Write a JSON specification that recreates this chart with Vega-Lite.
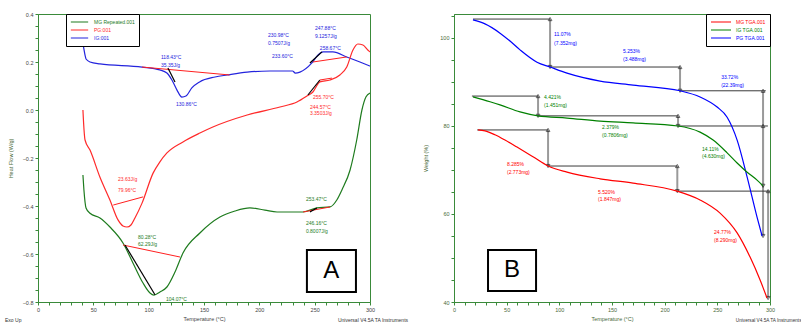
{
  "$schema": "https://vega.github.io/schema/vega-lite/v6.json",
  "autosize": {"type": "none"},
  "padding": {"left": 38, "top": 14, "right": 763, "bottom": 312},
  "background": "white",
  "bounds": "flush",
  "spacing": 84,
  "config": {
    "font": "Liberation Sans",
    "view": {"stroke": "#3a8a3a", "strokeWidth": 1},
    "axis": {"grid": false, "domainColor": "#3a8a3a", "tickColor": "#3a8a3a", "labelColor": "#4a6a3a", "titleColor": "#4a6a3a", "labelFontSize": 5.5, "titleFontSize": 5.5, "titleFontWeight": "normal", "tickSize": 3, "labelPadding": 2, "labelOverlap": false, "labelFont": "Liberation Sans", "titleFont": "Liberation Sans"},
    "text": {"font": "Liberation Sans", "fontSize": 5, "align": "left", "baseline": "middle"},
    "legend": {"labelFont": "Liberation Sans"}
  },
  "datasets": {
    "dscCurves": [
      {"x": 40.6, "y": 0.279, "s": "IG:001"}, {"x": 42.5, "y": 0.229, "s": "IG:001"}, {"x": 43.4, "y": 0.2125, "s": "IG:001"}, {"x": 47, "y": 0.2, "s": "IG:001"}, {"x": 56, "y": 0.192, "s": "IG:001"}, {"x": 94, "y": 0.179, "s": "IG:001"}, {"x": 110, "y": 0.167, "s": "IG:001"}, {"x": 116.5, "y": 0.154, "s": "IG:001"}, {"x": 121, "y": 0.125, "s": "IG:001"}, {"x": 125.6, "y": 0.083, "s": "IG:001"}, {"x": 130, "y": 0.054, "s": "IG:001"}, {"x": 133.7, "y": 0.058, "s": "IG:001"}, {"x": 139, "y": 0.092, "s": "IG:001"}, {"x": 146, "y": 0.117, "s": "IG:001"}, {"x": 160, "y": 0.1375, "s": "IG:001"}, {"x": 171, "y": 0.146, "s": "IG:001"}, {"x": 189, "y": 0.158, "s": "IG:001"}, {"x": 209.6, "y": 0.1625, "s": "IG:001"}, {"x": 230, "y": 0.1625, "s": "IG:001"}, {"x": 232.5, "y": 0.154, "s": "IG:001"}, {"x": 236.7, "y": 0.158, "s": "IG:001"}, {"x": 247.5, "y": 0.196, "s": "IG:001"}, {"x": 253, "y": 0.229, "s": "IG:001"}, {"x": 257.5, "y": 0.242, "s": "IG:001"}, {"x": 266.5, "y": 0.242, "s": "IG:001"}, {"x": 279, "y": 0.221, "s": "IG:001"}, {"x": 290.9, "y": 0.2, "s": "IG:001"}, {"x": 300, "y": 0.183, "s": "IG:001"},
      {"x": 40.6, "y": 0.0, "s": "PG:001"}, {"x": 41.6, "y": -0.083, "s": "PG:001"}, {"x": 42.5, "y": -0.125, "s": "PG:001"}, {"x": 47, "y": -0.167, "s": "PG:001"}, {"x": 56, "y": -0.28, "s": "PG:001"}, {"x": 65, "y": -0.375, "s": "PG:001"}, {"x": 72.3, "y": -0.458, "s": "PG:001"}, {"x": 76.8, "y": -0.483, "s": "PG:001"}, {"x": 80.4, "y": -0.4875, "s": "PG:001"}, {"x": 84, "y": -0.479, "s": "PG:001"}, {"x": 87.6, "y": -0.45, "s": "PG:001"}, {"x": 94, "y": -0.388, "s": "PG:001"}, {"x": 104, "y": -0.263, "s": "PG:001"}, {"x": 110, "y": -0.217, "s": "PG:001"}, {"x": 116.5, "y": -0.179, "s": "PG:001"}, {"x": 131, "y": -0.133, "s": "PG:001"}, {"x": 146.3, "y": -0.096, "s": "PG:001"}, {"x": 158, "y": -0.071, "s": "PG:001"}, {"x": 189, "y": -0.021, "s": "PG:001"}, {"x": 218.6, "y": 0.0125, "s": "PG:001"}, {"x": 234, "y": 0.033, "s": "PG:001"}, {"x": 243, "y": 0.058, "s": "PG:001"}, {"x": 248.4, "y": 0.075, "s": "PG:001"}, {"x": 254.7, "y": 0.117, "s": "PG:001"}, {"x": 263.8, "y": 0.125, "s": "PG:001"}, {"x": 272.8, "y": 0.146, "s": "PG:001"}, {"x": 279, "y": 0.179, "s": "PG:001"}, {"x": 284.6, "y": 0.25, "s": "PG:001"}, {"x": 289, "y": 0.275, "s": "PG:001"}, {"x": 293.6, "y": 0.271, "s": "PG:001"}, {"x": 298, "y": 0.25, "s": "PG:001"}, {"x": 300, "y": 0.242, "s": "PG:001"},
      {"x": 40.6, "y": -0.271, "s": "MG Repeated.001"}, {"x": 41.5, "y": -0.333, "s": "MG Repeated.001"}, {"x": 43.4, "y": -0.408, "s": "MG Repeated.001"}, {"x": 47, "y": -0.43, "s": "MG Repeated.001"}, {"x": 56, "y": -0.45, "s": "MG Repeated.001"}, {"x": 65, "y": -0.4875, "s": "MG Repeated.001"}, {"x": 76.8, "y": -0.554, "s": "MG Repeated.001"}, {"x": 85.8, "y": -0.6375, "s": "MG Repeated.001"}, {"x": 94.9, "y": -0.721, "s": "MG Repeated.001"}, {"x": 101.2, "y": -0.7625, "s": "MG Repeated.001"}, {"x": 104.8, "y": -0.771, "s": "MG Repeated.001"}, {"x": 110.2, "y": -0.758, "s": "MG Repeated.001"}, {"x": 116.5, "y": -0.7375, "s": "MG Repeated.001"}, {"x": 123.8, "y": -0.675, "s": "MG Repeated.001"}, {"x": 131, "y": -0.596, "s": "MG Repeated.001"}, {"x": 146.3, "y": -0.5125, "s": "MG Repeated.001"}, {"x": 164.4, "y": -0.446, "s": "MG Repeated.001"}, {"x": 178, "y": -0.421, "s": "MG Repeated.001"}, {"x": 191.5, "y": -0.408, "s": "MG Repeated.001"}, {"x": 205, "y": -0.417, "s": "MG Repeated.001"}, {"x": 216, "y": -0.425, "s": "MG Repeated.001"}, {"x": 239.4, "y": -0.425, "s": "MG Repeated.001"}, {"x": 252, "y": -0.408, "s": "MG Repeated.001"}, {"x": 263.8, "y": -0.404, "s": "MG Repeated.001"}, {"x": 270, "y": -0.375, "s": "MG Repeated.001"}, {"x": 274.6, "y": -0.333, "s": "MG Repeated.001"}, {"x": 282, "y": -0.25, "s": "MG Repeated.001"}, {"x": 288, "y": -0.125, "s": "MG Repeated.001"}, {"x": 292.7, "y": 0.0, "s": "MG Repeated.001"}, {"x": 296.3, "y": 0.054, "s": "MG Repeated.001"}, {"x": 300, "y": 0.071, "s": "MG Repeated.001"}
    ],
    "dscSeg": [
      {"x": 94, "x2": 173, "y": 0.179, "y2": 0.146, "k": "base"},
      {"x": 248.4, "x2": 279, "y": 0.2, "y2": 0.221, "k": "base"},
      {"x": 68, "x2": 95, "y": -0.396, "y2": -0.362, "k": "base"},
      {"x": 254.7, "x2": 265.6, "y": 0.125, "y2": 0.133, "k": "base"},
      {"x": 76.8, "x2": 128.3, "y": -0.5625, "y2": -0.6125, "k": "base"},
      {"x": 239.5, "x2": 264, "y": -0.425, "y2": -0.404, "k": "base"},
      {"x": 117.4, "x2": 123.8, "y": 0.175, "y2": 0.117, "k": "tan"},
      {"x": 245.7, "x2": 256.6, "y": 0.196, "y2": 0.242, "k": "tan"},
      {"x": 78.6, "x2": 105.7, "y": -0.5625, "y2": -0.77, "k": "tan"},
      {"x": 243.9, "x2": 254.7, "y": 0.0625, "y2": 0.125, "k": "tan"},
      {"x": 245.7, "x2": 252, "y": -0.425, "y2": -0.408, "k": "tan"}
    ],
    "dscText": [
      {"x": 111.1, "y": 0.221, "t": "118.43°C", "s": "IG:001"},
      {"x": 111.1, "y": 0.1875, "t": "35.35J/g", "s": "IG:001"},
      {"x": 124.7, "y": 0.025, "t": "130.86°C", "s": "IG:001"},
      {"x": 207.8, "y": 0.3125, "t": "230.98°C", "s": "IG:001"},
      {"x": 207.8, "y": 0.279, "t": "0.7507J/g", "s": "IG:001"},
      {"x": 250.2, "y": 0.342, "t": "247.88°C", "s": "IG:001"},
      {"x": 250.2, "y": 0.308, "t": "9.1257J/g", "s": "IG:001"},
      {"x": 254.7, "y": 0.258, "t": "258.67°C", "s": "IG:001"},
      {"x": 211.4, "y": 0.225, "t": "233.60°C", "s": "IG:001"},
      {"x": 248.4, "y": 0.054, "t": "255.70°C", "s": "PG:001"},
      {"x": 245.7, "y": 0.0125, "t": "244.57°C", "s": "PG:001"},
      {"x": 245.7, "y": -0.0125, "t": "3.3503J/g", "s": "PG:001"},
      {"x": 72.3, "y": -0.2875, "t": "23.63J/g", "s": "PG:001"},
      {"x": 72.3, "y": -0.333, "t": "79.96°C", "s": "PG:001"},
      {"x": 90.3, "y": -0.529, "t": "80.28°C", "s": "MG Repeated.001"},
      {"x": 90.3, "y": -0.558, "t": "62.29J/g", "s": "MG Repeated.001"},
      {"x": 115.6, "y": -0.789, "t": "104.07°C", "s": "MG Repeated.001"},
      {"x": 242.1, "y": -0.371, "t": "253.47°C", "s": "MG Repeated.001"},
      {"x": 242.1, "y": -0.471, "t": "246.16°C", "s": "MG Repeated.001"},
      {"x": 242.1, "y": -0.504, "t": "0.8007J/g", "s": "MG Repeated.001"}
    ],
    "dscNotes": [
      {"x": -29.8, "y": -0.875, "t": "Exo Up"},
      {"x": 271, "y": -0.875, "t": "Universal V4.5A TA Instruments"}
    ],
    "dscBox": [{"x": 243, "x2": 287.3, "y": -0.583, "y2": -0.758, "t": "A", "cx": 265, "cy": -0.67}],
    "tgaCurves": [
      {"x": 18, "y": 104.1, "s": "PG TGA.001"}, {"x": 29.4, "y": 103.2, "s": "PG TGA.001"}, {"x": 43.7, "y": 101.1, "s": "PG TGA.001"}, {"x": 53.2, "y": 99.3, "s": "PG TGA.001"}, {"x": 62.7, "y": 97.3, "s": "PG TGA.001"}, {"x": 78.8, "y": 94.5, "s": "PG TGA.001"}, {"x": 91.2, "y": 93.4, "s": "PG TGA.001"}, {"x": 107.3, "y": 92.0, "s": "PG TGA.001"}, {"x": 138.7, "y": 90.2, "s": "PG TGA.001"}, {"x": 170, "y": 89.3, "s": "PG TGA.001"}, {"x": 214.6, "y": 88.0, "s": "PG TGA.001"}, {"x": 233.6, "y": 86.6, "s": "PG TGA.001"}, {"x": 249.8, "y": 84.3, "s": "PG TGA.001"}, {"x": 259.3, "y": 82.0, "s": "PG TGA.001"}, {"x": 268.8, "y": 76.8, "s": "PG TGA.001"}, {"x": 278.3, "y": 68.4, "s": "PG TGA.001"}, {"x": 287.7, "y": 59.3, "s": "PG TGA.001"}, {"x": 292.5, "y": 55.0, "s": "PG TGA.001"},
      {"x": 18, "y": 86.6, "s": "IG TGA.001"}, {"x": 34.2, "y": 85.5, "s": "IG TGA.001"}, {"x": 43.7, "y": 84.8, "s": "IG TGA.001"}, {"x": 62.7, "y": 83.2, "s": "IG TGA.001"}, {"x": 79.8, "y": 82.3, "s": "IG TGA.001"}, {"x": 107.3, "y": 81.8, "s": "IG TGA.001"}, {"x": 138.7, "y": 81.1, "s": "IG TGA.001"}, {"x": 170, "y": 80.7, "s": "IG TGA.001"}, {"x": 212.7, "y": 80.0, "s": "IG TGA.001"}, {"x": 233.6, "y": 78.6, "s": "IG TGA.001"}, {"x": 246, "y": 76.8, "s": "IG TGA.001"}, {"x": 259.3, "y": 73.9, "s": "IG TGA.001"}, {"x": 268.8, "y": 71.6, "s": "IG TGA.001"}, {"x": 278.3, "y": 69.5, "s": "IG TGA.001"}, {"x": 287.7, "y": 67.7, "s": "IG TGA.001"}, {"x": 293.4, "y": 66.4, "s": "IG TGA.001"},
      {"x": 22.8, "y": 79.1, "s": "MG TGA.001"}, {"x": 29.4, "y": 78.9, "s": "MG TGA.001"}, {"x": 38.9, "y": 78.0, "s": "MG TGA.001"}, {"x": 48.4, "y": 76.8, "s": "MG TGA.001"}, {"x": 59.8, "y": 75.2, "s": "MG TGA.001"}, {"x": 75, "y": 73.0, "s": "MG TGA.001"}, {"x": 89.3, "y": 70.9, "s": "MG TGA.001"}, {"x": 107.3, "y": 69.5, "s": "MG TGA.001"}, {"x": 138.7, "y": 68.0, "s": "MG TGA.001"}, {"x": 170, "y": 67.0, "s": "MG TGA.001"}, {"x": 211.8, "y": 65.2, "s": "MG TGA.001"}, {"x": 233.6, "y": 63.2, "s": "MG TGA.001"}, {"x": 252.6, "y": 60.2, "s": "MG TGA.001"}, {"x": 268.8, "y": 55.7, "s": "MG TGA.001"}, {"x": 281.1, "y": 50.2, "s": "MG TGA.001"}, {"x": 290.6, "y": 45.0, "s": "MG TGA.001"}, {"x": 297.2, "y": 40.9, "s": "MG TGA.001"}
    ],
    "tgaSeg": [
      {"x": 18, "x2": 91.2, "y": 104.3, "y2": 104.3, "k": "h"},
      {"x": 91.2, "x2": 214.6, "y": 93.4, "y2": 93.4, "k": "h"},
      {"x": 214.6, "x2": 296, "y": 88.0, "y2": 88.0, "k": "h"},
      {"x": 17, "x2": 79.8, "y": 86.8, "y2": 86.8, "k": "h"},
      {"x": 79.8, "x2": 212.7, "y": 82.3, "y2": 82.3, "k": "h"},
      {"x": 212.7, "x2": 298, "y": 80.0, "y2": 80.0, "k": "h"},
      {"x": 22, "x2": 89.3, "y": 79.1, "y2": 79.1, "k": "h"},
      {"x": 89.3, "x2": 212, "y": 70.9, "y2": 70.9, "k": "h"},
      {"x": 212, "x2": 300, "y": 65.2, "y2": 65.2, "k": "h"},
      {"x": 91.2, "x2": 91.2, "y": 104.3, "y2": 93.4, "k": "v"},
      {"x": 214.6, "x2": 214.6, "y": 93.4, "y2": 88.0, "k": "v"},
      {"x": 293.4, "x2": 293.4, "y": 88.0, "y2": 55.0, "k": "v"},
      {"x": 79.8, "x2": 79.8, "y": 86.8, "y2": 82.3, "k": "v"},
      {"x": 212.7, "x2": 212.7, "y": 82.3, "y2": 80.0, "k": "v"},
      {"x": 293.4, "x2": 293.4, "y": 80.0, "y2": 66.4, "k": "v"},
      {"x": 89.3, "x2": 89.3, "y": 79.1, "y2": 70.9, "k": "v"},
      {"x": 212, "x2": 212, "y": 70.9, "y2": 65.2, "k": "v"},
      {"x": 298.2, "x2": 298.2, "y": 65.2, "y2": 40.9, "k": "v"}
    ],
    "tgaText": [
      {"x": 95, "y": 100.9, "t": "11.07%", "s": "PG TGA.001"},
      {"x": 95, "y": 98.9, "t": "(7.352mg)", "s": "PG TGA.001"},
      {"x": 160.5, "y": 97.05, "t": "5.253%", "s": "PG TGA.001"},
      {"x": 160.5, "y": 95.2, "t": "(3.488mg)", "s": "PG TGA.001"},
      {"x": 253.6, "y": 91.1, "t": "33.72%", "s": "PG TGA.001"},
      {"x": 253.6, "y": 89.3, "t": "(22.39mg)", "s": "PG TGA.001"},
      {"x": 85.5, "y": 86.6, "t": "4.421%", "s": "IG TGA.001"},
      {"x": 85.5, "y": 84.8, "t": "(1.451mg)", "s": "IG TGA.001"},
      {"x": 140.6, "y": 79.8, "t": "2.379%", "s": "IG TGA.001"},
      {"x": 140.6, "y": 78.0, "t": "(0.7806mg)", "s": "IG TGA.001"},
      {"x": 235.5, "y": 74.8, "t": "14.11%", "s": "IG TGA.001"},
      {"x": 235.5, "y": 73.2, "t": "(4.630mg)", "s": "IG TGA.001"},
      {"x": 50.3, "y": 71.4, "t": "8.285%", "s": "MG TGA.001"},
      {"x": 50.3, "y": 69.5, "t": "(2.773mg)", "s": "MG TGA.001"},
      {"x": 136.8, "y": 65.0, "t": "5.520%", "s": "MG TGA.001"},
      {"x": 136.8, "y": 63.4, "t": "(1.847mg)", "s": "MG TGA.001"},
      {"x": 246.9, "y": 55.9, "t": "24.77%", "s": "MG TGA.001"},
      {"x": 246.9, "y": 54.1, "t": "(8.290mg)", "s": "MG TGA.001"}
    ],
    "tgaNotes": [
      {"x": 267.5, "y": 35.6, "t": "Universal V4.5A TA Instruments"}
    ],
    "tgaBox": [{"x": 32.3, "x2": 77.9, "y": 51.8, "y2": 42.5, "t": "B", "cx": 55, "cy": 47.2}]
  },
  "resolve": {"scale": {"color": "independent", "fill": "independent"}, "legend": {"color": "independent"}},
  "hconcat": [
    {
      "width": 332,
      "height": 288,
      "layer": [
        {
          "data": {"name": "dscCurves"},
          "mark": {"type": "line", "strokeWidth": 1.2, "clip": true, "interpolate": "monotone"},
          "encoding": {
            "x": {"field": "x", "type": "quantitative", "scale": {"domain": [0, 300], "nice": false},
              "axis": {"title": "Temperature (°C)", "tickCount": 200, "values": [0,10,20,30,40,50,60,70,80,90,100,110,120,130,140,150,160,170,180,190,200,210,220,230,240,250,260,270,280,290,300], "labelExpr": "datum.value % 50 == 0 ? format(datum.value, 'd') : ''", "labelOverlap": false, "labelFlush": false, "titlePadding": 4, "labelColor": "#444", "titleColor": "#444"}},
            "y": {"field": "y", "type": "quantitative", "scale": {"domain": [-0.8, 0.4], "nice": false, "zero": false},
              "axis": {"title": "Heat Flow (W/g)", "tickCount": 200, "values": [-0.8,-0.75,-0.7,-0.65,-0.6,-0.55,-0.5,-0.45,-0.4,-0.35,-0.3,-0.25,-0.2,-0.15,-0.1,-0.05,0,0.05,0.1,0.15,0.2,0.25,0.3,0.35,0.4], "labelExpr": "round(datum.value*20) % 4 == 0 ? format(datum.value, '.1f') : ''", "labelOverlap": false, "titlePadding": 9, "labelColor": "#444"}},
            "color": {"field": "s", "type": "nominal",
              "scale": {"domain": ["MG Repeated.001", "PG:001", "IG:001"], "range": ["#1e7b1e", "#ff2a2a", "#2424dd"]},
              "legend": {"title": null, "orient": "none", "legendX": 28, "legendY": 0, "symbolType": "stroke", "symbolSize": 300, "symbolStrokeWidth": 1.2, "labelFontSize": 5, "clipHeight": 8, "rowPadding": 0, "padding": 4, "strokeColor": "black", "fillColor": "white", "labelOffset": 5,
                "encode": {"labels": {"update": {"fill": {"signal": "datum.value == 'PG:001' ? '#ff2a2a' : datum.value == 'IG:001' ? '#2424dd' : '#1e7b1e'"}}}}}}
          }
        },
        {
          "data": {"name": "dscSeg"},
          "transform": [{"filter": "datum.k == 'base'"}],
          "mark": {"type": "rule", "color": "#ff2020", "strokeWidth": 1},
          "encoding": {"x": {"field": "x", "type": "quantitative"}, "x2": {"field": "x2"}, "y": {"field": "y", "type": "quantitative"}, "y2": {"field": "y2"}}
        },
        {
          "data": {"name": "dscSeg"},
          "transform": [{"filter": "datum.k == 'tan'"}],
          "mark": {"type": "rule", "color": "black", "strokeWidth": 1.2},
          "encoding": {"x": {"field": "x", "type": "quantitative"}, "x2": {"field": "x2"}, "y": {"field": "y", "type": "quantitative"}, "y2": {"field": "y2"}}
        },
        {
          "data": {"name": "dscText"},
          "mark": {"type": "text"},
          "encoding": {"x": {"field": "x", "type": "quantitative"}, "y": {"field": "y", "type": "quantitative"}, "text": {"field": "t"},
            "fill": {"field": "s", "type": "nominal", "scale": {"domain": ["MG Repeated.001", "PG:001", "IG:001"], "range": ["#1e7b1e", "#ff2a2a", "#2424dd"]}, "legend": null}}
        },
        {
          "data": {"name": "dscNotes"},
          "mark": {"type": "text", "color": "#333", "fontSize": 5},
          "encoding": {"x": {"field": "x", "type": "quantitative"}, "y": {"field": "y", "type": "quantitative"}, "text": {"field": "t"}}
        },
        {
          "data": {"name": "dscBox"},
          "mark": {"type": "rect", "fill": "white", "stroke": "black", "strokeWidth": 2},
          "encoding": {"x": {"field": "x", "type": "quantitative"}, "x2": {"field": "x2"}, "y": {"field": "y", "type": "quantitative"}, "y2": {"field": "y2"}}
        },
        {
          "data": {"name": "dscBox"},
          "mark": {"type": "text", "fontSize": 24, "align": "center", "color": "black", "font": "Liberation Sans"},
          "encoding": {"x": {"field": "cx", "type": "quantitative"}, "y": {"field": "cy", "type": "quantitative"}, "text": {"field": "t"}}
        }
      ]
    },
    {
      "width": 316,
      "height": 288,
      "layer": [
        {
          "data": {"name": "tgaSeg"},
          "transform": [{"filter": "datum.k == 'v'"}],
          "mark": {"type": "rule", "color": "#9a9a9a", "strokeWidth": 2},
          "encoding": {"x": {"field": "x", "type": "quantitative", "scale": {"domain": [0, 300], "nice": false},
              "axis": {"title": "Temperature (°C)", "tickCount": 200, "values": [0,10,20,30,40,50,60,70,80,90,100,110,120,130,140,150,160,170,180,190,200,210,220,230,240,250,260,270,280,290,300], "labelExpr": "datum.value % 50 == 0 ? format(datum.value, 'd') : ''", "labelOverlap": false, "labelFlush": false, "titlePadding": 4}},
            "x2": {"field": "x2"},
            "y": {"field": "y", "type": "quantitative", "scale": {"domain": [40, 105.45], "nice": false, "zero": false},
              "axis": {"title": "Weight (%)", "tickCount": 200, "values": [40,45,50,55,60,65,70,75,80,85,90,95,100,105], "labelExpr": "datum.value % 20 == 0 ? format(datum.value, 'd') : ''", "labelOverlap": false, "titlePadding": 11}},
            "y2": {"field": "y2"}}
        },
        {
          "data": {"name": "tgaSeg"},
          "transform": [{"filter": "datum.k == 'v'"}],
          "mark": {"type": "point", "shape": "triangle-up", "size": 14, "filled": false, "color": "black", "strokeWidth": 0.8},
          "encoding": {"x": {"field": "x", "type": "quantitative"}, "y": {"field": "y", "type": "quantitative"}}
        },
        {
          "data": {"name": "tgaSeg"},
          "transform": [{"filter": "datum.k == 'v'"}],
          "mark": {"type": "point", "shape": "triangle-down", "size": 14, "filled": false, "color": "black", "strokeWidth": 0.8},
          "encoding": {"x": {"field": "x2", "type": "quantitative"}, "y": {"field": "y2", "type": "quantitative"}}
        },
        {
          "data": {"name": "tgaSeg"},
          "transform": [{"filter": "datum.k == 'h'"}],
          "mark": {"type": "rule", "color": "#3a3a3a", "strokeWidth": 1},
          "encoding": {"x": {"field": "x", "type": "quantitative"}, "x2": {"field": "x2"}, "y": {"field": "y", "type": "quantitative"}, "y2": {"field": "y2"}}
        },
        {
          "data": {"name": "tgaCurves"},
          "mark": {"type": "line", "strokeWidth": 1.2, "clip": true, "interpolate": "monotone"},
          "encoding": {
            "x": {"field": "x", "type": "quantitative"},
            "y": {"field": "y", "type": "quantitative"},
            "color": {"field": "s", "type": "nominal",
              "scale": {"domain": ["MG TGA.001", "IG TGA.001", "PG TGA.001"], "range": ["#ff0000", "#008000", "#0000ff"]},
              "legend": {"title": null, "orient": "top-right", "offset": 0, "symbolType": "stroke", "symbolSize": 400, "symbolStrokeWidth": 1.2, "labelFontSize": 5, "clipHeight": 8, "rowPadding": 0, "padding": 4, "strokeColor": "black", "fillColor": "white", "labelOffset": 4,
                "encode": {"labels": {"update": {"fill": {"signal": "datum.value == 'MG TGA.001' ? '#ff0000' : datum.value == 'IG TGA.001' ? '#008000' : '#0000ff'"}}}}}}
          }
        },
        {
          "data": {"name": "tgaText"},
          "mark": {"type": "text"},
          "encoding": {"x": {"field": "x", "type": "quantitative"}, "y": {"field": "y", "type": "quantitative"}, "text": {"field": "t"},
            "fill": {"field": "s", "type": "nominal", "scale": {"domain": ["MG TGA.001", "IG TGA.001", "PG TGA.001"], "range": ["#ff0000", "#008000", "#0000ff"]}, "legend": null}}
        },
        {
          "data": {"name": "tgaNotes"},
          "mark": {"type": "text", "color": "#333", "fontSize": 4.7},
          "encoding": {"x": {"field": "x", "type": "quantitative"}, "y": {"field": "y", "type": "quantitative"}, "text": {"field": "t"}}
        },
        {
          "data": {"name": "tgaBox"},
          "mark": {"type": "rect", "fill": "white", "stroke": "black", "strokeWidth": 2},
          "encoding": {"x": {"field": "x", "type": "quantitative"}, "x2": {"field": "x2"}, "y": {"field": "y", "type": "quantitative"}, "y2": {"field": "y2"}}
        },
        {
          "data": {"name": "tgaBox"},
          "mark": {"type": "text", "fontSize": 24, "align": "center", "color": "black", "font": "Liberation Sans"},
          "encoding": {"x": {"field": "cx", "type": "quantitative"}, "y": {"field": "cy", "type": "quantitative"}, "text": {"field": "t"}}
        }
      ]
    }
  ]
}
